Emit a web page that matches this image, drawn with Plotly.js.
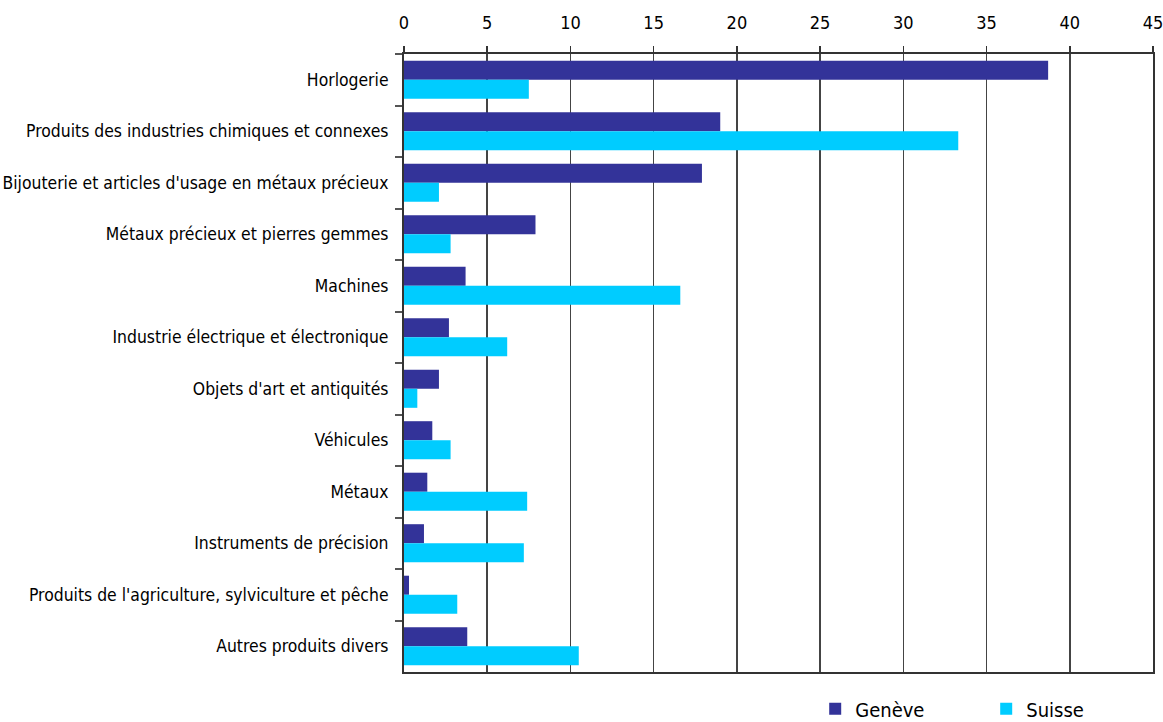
<!DOCTYPE html>
<html>
<head>
<meta charset="utf-8">
<script src="https://cdn.plot.ly/plotly-3.0.1.min.js"></script>
<style>html,body{margin:0;padding:0;background:#fff;}#chart{width:1163px;height:722px;}</style>
</head>
<body>
<div id="chart"></div>
<script>
const categories = [
  "Horlogerie",
  "Produits des industries chimiques et connexes",
  "Bijouterie et articles d'usage en métaux précieux",
  "Métaux précieux et pierres gemmes",
  "Machines",
  "Industrie électrique et électronique",
  "Objets d'art et antiquités",
  "Véhicules",
  "Métaux",
  "Instruments de précision",
  "Produits de l'agriculture, sylviculture et pêche",
  "Autres produits divers"
];
const geneve = [38.7, 19.0, 17.9, 7.9, 3.7, 2.7, 2.1, 1.7, 1.4, 1.2, 0.3, 3.8];
const suisse = [7.5, 33.3, 2.1, 2.8, 16.6, 6.2, 0.8, 2.8, 7.4, 7.2, 3.2, 10.5];
const tickVals = [0, 5, 10, 15, 20, 25, 30, 35, 40, 45];

const font = "'Liberation Sans Narrow', 'Arial Narrow', 'DejaVu Sans Condensed', sans-serif";

const data = [
  {type: 'bar', orientation: 'h', name: 'Genève', y: categories, x: geneve,
   marker: {color: '#333399'}, hoverinfo: 'x+y'},
  {type: 'bar', orientation: 'h', name: 'Suisse', y: categories, x: suisse,
   marker: {color: '#00CCFF'}, hoverinfo: 'x+y'}
];

const layout = {
  width: 1163, height: 722,
  margin: {l: 404, r: 10, t: 54, b: 50, autoexpand: false},
  paper_bgcolor: '#fff', plot_bgcolor: '#fff',
  font: {family: font, size: 17, color: '#000'},
  barmode: 'group',
  bargap: 0.26,
  bargroupgap: 0,
  xaxis: {
    side: 'top', range: [0, 45], tickvals: tickVals, ticktext: tickVals.map(String),
    showgrid: true, gridcolor: '#444', gridwidth: 1.5,
    showline: true, linecolor: '#333', linewidth: 2, mirror: true,
    ticks: 'outside', ticklen: 6, tickcolor: '#333', tickwidth: 1.5,
    zeroline: false, fixedrange: true, automargin: false,
    ticklabelstandoff: 10, ticklabeloverflow: 'allow',
    tickfont: {family: font, size: 18, color: '#000'}
  },
  yaxis: {
    type: 'category', autorange: 'reversed',
    showline: true, linecolor: '#333', linewidth: 2, mirror: true,
    ticks: 'outside', tickson: 'boundaries', ticklen: 7, tickcolor: '#555', tickwidth: 2,
    showgrid: false, zeroline: false, fixedrange: true, automargin: false,
    ticklabelstandoff: 10, ticklabeloverflow: 'allow',
    tickfont: {family: font, size: 17.4, color: '#000'}
  },
  showlegend: true,
  legend: {
    orientation: 'h', x: 0.549, xanchor: 'left', y: -0.028, yanchor: 'top',
    font: {family: font, size: 20, color: '#000'},
    entrywidth: 126, entrywidthmode: 'pixels',
    itemwidth: 30, bgcolor: 'rgba(0,0,0,0)'
  }
};

Plotly.newPlot('chart', data, layout, {displayModeBar: false, staticPlot: true});
</script>
</body>
</html>
